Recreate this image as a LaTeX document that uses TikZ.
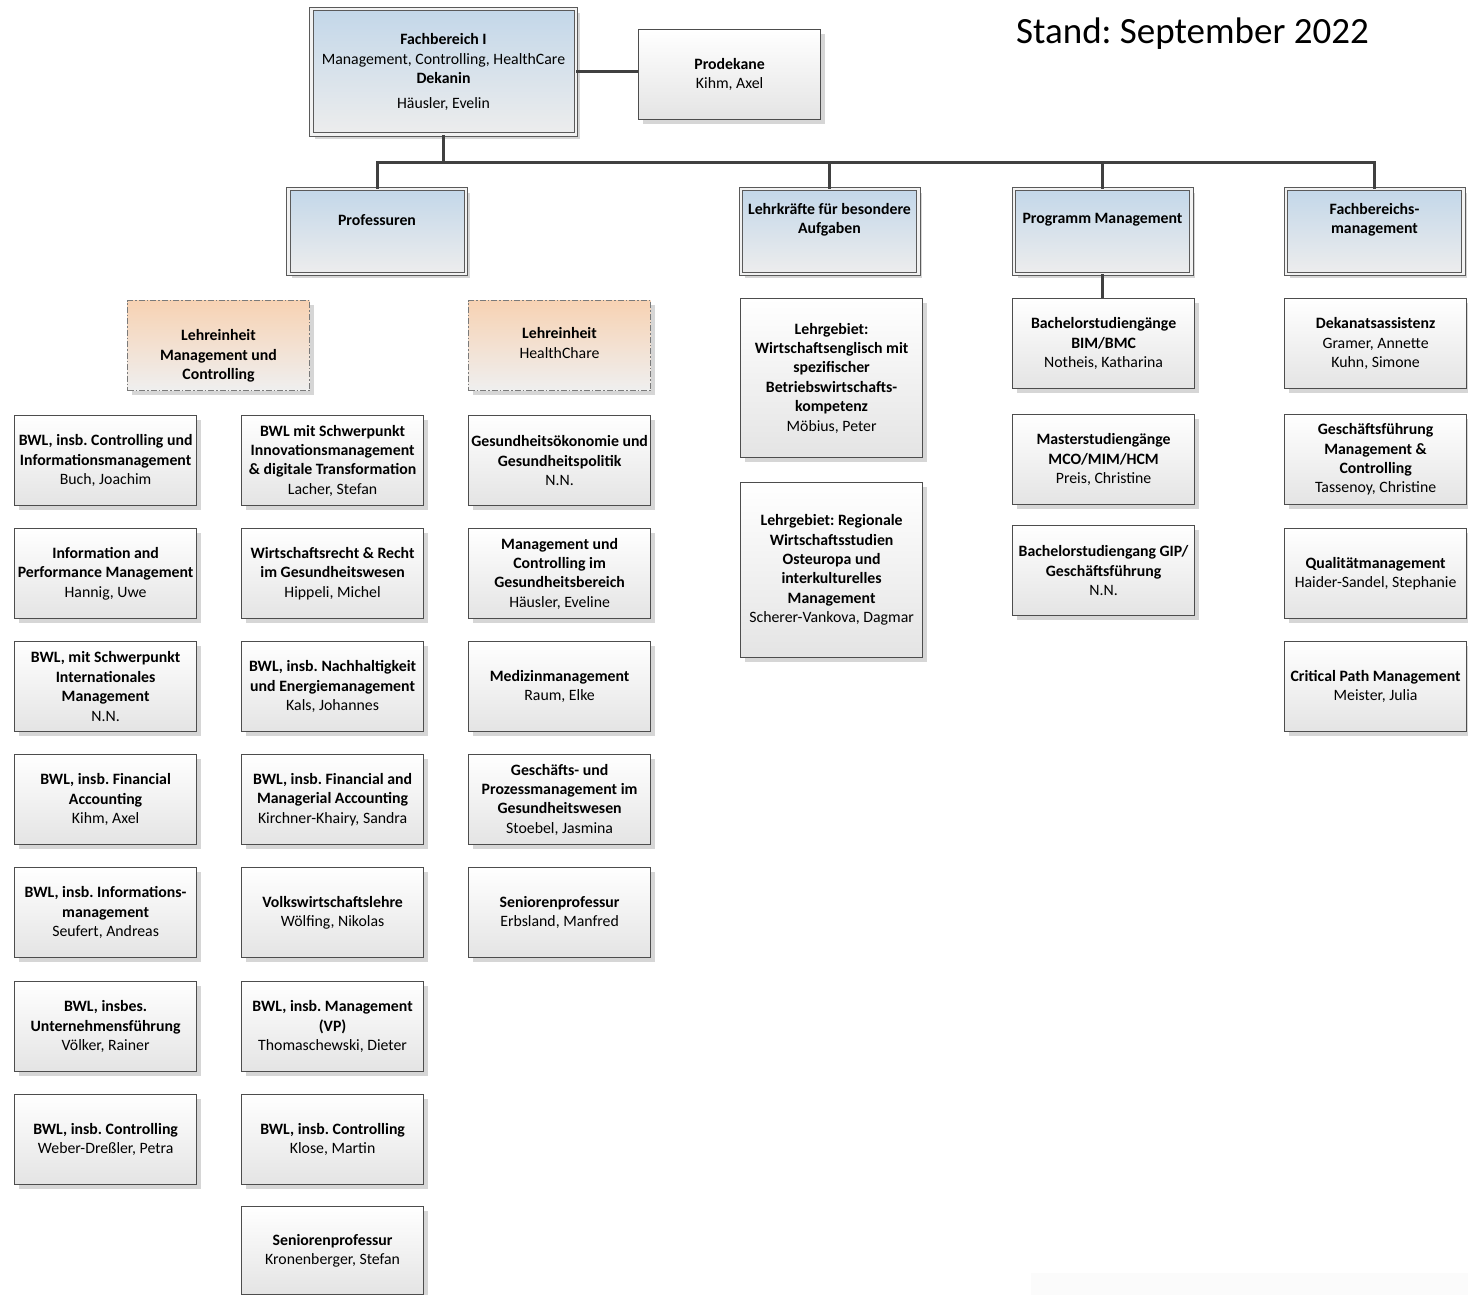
\documentclass[tikz,border=0pt]{standalone}
\usepackage{fontspec}
\setmainfont{Carlito}
\frenchspacing
\usetikzlibrary{shadows}
\definecolor{boxline}{HTML}{4D4D4D}
\definecolor{boxbot}{HTML}{E4E4E4}
\definecolor{hdrline}{HTML}{5A5A5A}
\definecolor{hdrgap}{HTML}{F2F2F2}
\definecolor{hdrtop}{HTML}{C3D7E9}
\definecolor{hdrbot}{HTML}{EDEDED}
\definecolor{leline}{HTML}{7A7A7A}
\definecolor{letop}{HTML}{F7D2B3}
\definecolor{lebot}{HTML}{EFEFEF}
\definecolor{connc}{HTML}{404040}
\definecolor{shadowc}{HTML}{D6D6D6}
\definecolor{faint}{HTML}{FBFBFB}
\begin{document}
\begin{tikzpicture}[x=1pt,y=-1pt,
  every node/.style={font=\fontsize{15.8pt}{19.4pt}\selectfont},
  shad/.style={drop shadow={shadow xshift=4pt, shadow yshift=-4pt, fill=shadowc, opacity=1}},
  card/.style={shad, draw=boxline, line width=1.2pt, top color=white, bottom color=boxbot,
    minimum width=182pt, minimum height=90pt, inner sep=0pt, align=center, anchor=north west},
  hdr/.style={shad, draw=hdrline, line width=1pt, double=hdrgap, double distance=2.5pt,
    top color=hdrtop, bottom color=hdrbot, inner sep=0pt, align=center, anchor=center},
  lebox/.style={shad, draw=leline, line width=1pt, dash pattern=on 6pt off 2pt on 1.5pt off 2pt,
    top color=letop, bottom color=lebot, minimum width=182pt, minimum height=90pt,
    anchor=north west, inner sep=0pt},
  txt/.style={align=center, inner sep=0pt},
  conn/.style={draw=connc, line width=3pt}
]
\useasboundingbox (0,0) rectangle (1468,1295);
\fill[faint] (1031,1273) rectangle (1468,1295);

% title
\node[anchor=base, inner sep=0pt, font=\fontsize{37pt}{44pt}\selectfont] (stand) at (1192.5,44) {Stand: September 2022};

% top level
\node[hdr, minimum width=264.5pt, minimum height=125.5pt] (fb) at (443.5,72)
  {\textbf{Fachbereich I}\\ Management, Controlling, HealthCare\\ \textbf{Dekanin}\\[5.5pt] Häusler, Evelin};
\node[card] (pro) at (638,29) {\textbf{Prodekane}\\ Kihm, Axel};

% headers
\node[hdr, minimum width=177.5pt, minimum height=84.5pt] (prof) at (377,231.5) {};
\node[hdr, minimum width=177.5pt, minimum height=84.5pt] (lfba) at (829.5,231.5) {};
\node[hdr, minimum width=177.5pt, minimum height=84.5pt] (prog) at (1102.5,231.5) {};
\node[hdr, minimum width=177.5pt, minimum height=84.5pt] (fbm) at (1374.5,231.5) {};
\node[txt] (profT) at ([yshift=11.5pt]prof.center) {\textbf{Professuren}};
\node[txt] (lfbaT) at ([yshift=12pt]lfba.center) {\textbf{Lehrkräfte für besondere}\\ \textbf{Aufgaben}};
\node[txt] (progT) at ([yshift=11.5pt]prog.center) {\textbf{Programm Management}};
\node[txt] (fbmT) at ([yshift=12pt]fbm.center) {\textbf{Fachbereichs-}\\ \textbf{management}};

% connectors
\coordinate (bus) at (444,163);
\draw[conn] (fb.east) -- (fb.east -| pro.west);
\draw[conn] (fb.south) -- (fb.south |- bus);
\draw[conn] (prof.north) -- (prof.north |- bus) -- (fbm.north |- bus) -- (fbm.north);
\draw[conn] (lfba.north |- bus) -- (lfba.north);
\draw[conn] (prog.north |- bus) -- (prog.north);

% Lehreinheiten
\node[lebox] (le1) at (127,300) {};
\node[lebox] (le2) at (468,300) {};
\node[txt] (le1T) at ([yshift=-10.5pt]le1.center) {\textbf{Lehreinheit}\\ \textbf{Management und}\\ \textbf{Controlling}};
\node[txt] (le2T) at ([yshift=2.5pt]le2.center) {\textbf{Lehreinheit}\\ HealthChare};

% column A
\node[card] (a1) at (14,415) {\textbf{BWL, insb. Controlling und}\\ \textbf{Informationsmanagement}\\ Buch, Joachim};
\node[card] (a2) at (14,528) {\textbf{Information and}\\ \textbf{Performance Management}\\ Hannig, Uwe};
\node[card] (a3) at (14,641) {\textbf{BWL, mit Schwerpunkt}\\ \textbf{Internationales}\\ \textbf{Management}\\ N.N.};
\node[card] (a4) at (14,754) {\textbf{BWL, insb. Financial}\\ \textbf{Accounting}\\ Kihm, Axel};
\node[card] (a5) at (14,867) {\textbf{BWL, insb. Informations-}\\ \textbf{management}\\ Seufert, Andreas};
\node[card] (a6) at (14,981) {\textbf{BWL, insbes.}\\ \textbf{Unternehmensführung}\\ Völker, Rainer};
\node[card] (a7) at (14,1094) {\textbf{BWL, insb. Controlling}\\ Weber-Dreßler, Petra};

% column B
\node[card] (b1) at (241,415) {\textbf{BWL mit Schwerpunkt}\\ \textbf{Innovationsmanagement}\\ \textbf{\& digitale Transformation}\\ Lacher, Stefan};
\node[card] (b2) at (241,528) {\textbf{Wirtschaftsrecht \& Recht}\\ \textbf{im Gesundheitswesen}\\ Hippeli, Michel};
\node[card] (b3) at (241,641) {\textbf{BWL, insb. Nachhaltigkeit}\\ \textbf{und Energiemanagement}\\ Kals, Johannes};
\node[card] (b4) at (241,754) {\textbf{BWL, insb. Financial and}\\ \textbf{Managerial Accounting}\\ Kirchner-Khairy, Sandra};
\node[card] (b5) at (241,867) {\textbf{Volkswirtschaftslehre}\\ Wölfing, Nikolas};
\node[card] (b6) at (241,981) {\textbf{BWL, insb. Management}\\ \textbf{(VP)}\\ Thomaschewski, Dieter};
\node[card] (b7) at (241,1094) {\textbf{BWL, insb. Controlling}\\ Klose, Martin};
\node[card, minimum height=88pt] (b8) at (241,1206) {\textbf{Seniorenprofessur}\\ Kronenberger, Stefan};

% column C
\node[card] (c1) at (468,415) {\textbf{Gesundheitsökonomie und}\\ \textbf{Gesundheitspolitik}\\ N.N.};
\node[card] (c2) at (468,528) {\textbf{Management und}\\ \textbf{Controlling im}\\ \textbf{Gesundheitsbereich}\\ Häusler, Eveline};
\node[card] (c3) at (468,641) {\textbf{Medizinmanagement}\\ Raum, Elke};
\node[card] (c4) at (468,754) {\textbf{Geschäfts- und}\\ \textbf{Prozessmanagement im}\\ \textbf{Gesundheitswesen}\\ Stoebel, Jasmina};
\node[card] (c5) at (468,867) {\textbf{Seniorenprofessur}\\ Erbsland, Manfred};

% column D
\node[card, minimum height=159pt] (d1) at (740,298) {\textbf{Lehrgebiet:}\\ \textbf{Wirtschaftsenglisch mit}\\ \textbf{spezifischer}\\ \textbf{Betriebswirtschafts-}\\ \textbf{kompetenz}\\ Möbius, Peter};
\node[card, minimum height=175pt] (d2) at (740,482) {\textbf{Lehrgebiet: Regionale}\\ \textbf{Wirtschaftsstudien}\\ \textbf{Osteuropa und}\\ \textbf{interkulturelles}\\ \textbf{Management}\\ Scherer-Vankova, Dagmar};

% column E
\node[card] (e1) at (1012,298) {\textbf{Bachelorstudiengänge}\\ \textbf{BIM/BMC}\\ Notheis, Katharina};
\node[card] (e2) at (1012,414) {\textbf{Masterstudiengänge}\\ \textbf{MCO/MIM/HCM}\\ Preis, Christine};
\node[card] (e3) at (1012,525) {\textbf{Bachelorstudiengang GIP/}\\ \textbf{Geschäftsführung}\\ N.N.};
\draw[conn] (prog.south) -- (prog.south |- e1.north);

% column F
\node[card] (f1) at (1284,298) {\textbf{Dekanatsassistenz}\\ Gramer, Annette\\ Kuhn, Simone};
\node[card] (f2) at (1284,414) {\textbf{Geschäftsführung}\\ \textbf{Management \&}\\ \textbf{Controlling}\\ Tassenoy, Christine};
\node[card] (f3) at (1284,528) {\textbf{Qualitätmanagement}\\ Haider-Sandel, Stephanie};
\node[card] (f4) at (1284,641) {\textbf{Critical Path Management}\\ Meister, Julia};
\end{tikzpicture}
\end{document}
